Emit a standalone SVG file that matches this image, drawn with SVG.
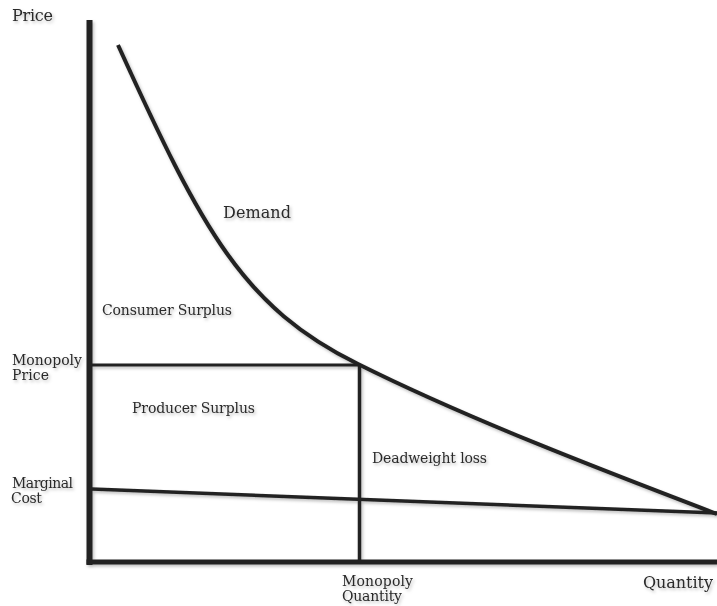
<svg xmlns="http://www.w3.org/2000/svg" width="717" height="606" viewBox="0 0 717 606">
  <defs>
    <filter id="sh" x="-10%" y="-10%" width="130%" height="130%">
      <feDropShadow dx="1.5" dy="2" stdDeviation="1.5" flood-color="#000" flood-opacity="0.25"/>
    </filter>
    <style>
      .ax { stroke: #222; stroke-width: 6; fill: none; }
      .ln { stroke: #222; stroke-width: 3.5; fill: none; stroke-linecap: butt; }
      .cv { stroke: #222; stroke-width: 4; fill: none; }
      .t { font-family: "DejaVu Serif", "Liberation Serif", serif; fill: #2a2a2a; font-size: 14px; }
      .tl { font-size: 16px; }
    </style>
  </defs>
  <rect width="717" height="606" fill="#fff"/>
  <g id="connectors" filter="url(#sh)">
    <line id="y-axis" class="ax" x1="89.5" y1="20" x2="89.5" y2="565"/>
    <line id="x-axis" class="ax" x1="86.5" y1="562" x2="717" y2="562" style="stroke-width:5"/>
    <line id="monopoly-price-line" class="ln" x1="92" y1="365" x2="359" y2="365" style="stroke-width:3"/>
    <line id="monopoly-quantity-line" class="ln" x1="359.5" y1="364" x2="359.5" y2="560"/>
    <line id="marginal-cost-line" class="ln" x1="92" y1="489" x2="717" y2="513"/>
    <path id="demand-curve" class="cv" d="M118,45 C203,232 243,307 358,364 C468,419 607,472 717,514"/>
  </g>
  <g id="labels" filter="url(#sh)">
    <g id="price-label"><text class="t tl" x="12" y="21" textLength="41">Price</text></g>
    <g id="demand-label"><text class="t tl" x="223" y="218" textLength="68">Demand</text></g>
    <g id="consumer-surplus"><text class="t" x="102" y="315" textLength="130">Consumer Surplus</text></g>
    <g id="monopoly-price-label">
      <text class="t" x="12" y="365" textLength="70">Monopoly</text>
      <text class="t" x="12" y="380" textLength="37">Price</text>
    </g>
    <g id="producer-surplus"><text class="t" x="132" y="413" textLength="123">Producer Surplus</text></g>
    <g id="deadweight-loss"><text class="t" x="372" y="463" textLength="115">Deadweight loss</text></g>
    <g id="marginal-cost-label">
      <text class="t" x="12" y="488" textLength="61">Marginal</text>
      <text class="t" x="11" y="503" textLength="31">Cost</text>
    </g>
    <g id="monopoly-quantity-label">
      <text class="t" x="342" y="586" textLength="71">Monopoly</text>
      <text class="t" x="342" y="601" textLength="60">Quantity</text>
    </g>
    <g id="quantity-label"><text class="t tl" x="643" y="588" textLength="70">Quantity</text></g>
  </g>
</svg>
